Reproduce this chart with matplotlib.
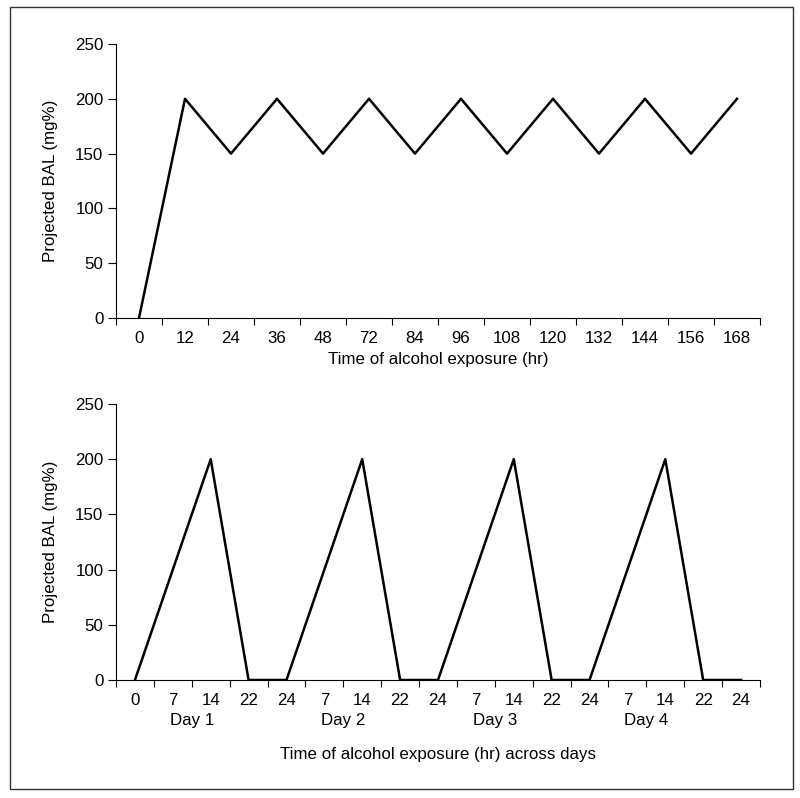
import numpy as np
import matplotlib
matplotlib.use("Agg")
from matplotlib import pyplot as plt
from matplotlib.patches import Rectangle
import matplotlib.transforms as mtransforms

plt.rcParams["font.family"] = ["Liberation Sans", "DejaVu Sans"]
plt.rcParams["font.size"] = 12.2

# top panel: continuous exposure
top_hours = ["0", "12", "24", "36", "48", "72", "84", "96", "108", "120", "132", "144", "156", "168"]
top_bal = [0, 200, 150, 200, 150, 200, 150, 200, 150, 200, 150, 200, 150, 200]

# bottom panel: intermittent exposure across days
bottom_hours = ["0", "7", "14", "22", "24",
                "7", "14", "22", "24",
                "7", "14", "22", "24",
                "7", "14", "22", "24"]
bottom_bal = [0, 100, 200, 0, 0,
              100, 200, 0, 0,
              100, 200, 0, 0,
              100, 200, 0, 0]
day_labels = ["Day 1", "Day 2", "Day 3", "Day 4"]
day_centers = [1.5, 5.5, 9.5, 13.5]

yticks = [0, 50, 100, 150, 200, 250]

fig = plt.figure(figsize=(8, 7.98), dpi=100)
ax1 = fig.add_axes([116 / 800, 1 - 318 / 798, 644 / 800, 274 / 798])
ax2 = fig.add_axes([116 / 800, 1 - 680 / 798, 644 / 800, 276 / 798])


def style(ax, labels):
    n = len(labels)
    ax.set_xlim(-0.5, n - 0.5)
    ax.set_ylim(0, 250)
    ax.set_yticks(yticks)
    ax.set_xticks(np.arange(n))
    ax.set_xticklabels(labels)
    ax.set_xticks(np.arange(n + 1) - 0.5, minor=True)
    ax.tick_params(axis="x", which="major", length=0, pad=9.5)
    ax.tick_params(axis="x", which="minor", length=5, width=0.8, direction="out")
    ax.tick_params(axis="y", length=6, width=0.8, direction="out", pad=3)
    ax.spines["top"].set_visible(False)
    ax.spines["right"].set_visible(False)
    for s in ["left", "bottom"]:
        ax.spines[s].set_linewidth(0.8)
    ax.set_ylabel("Projected BAL (mg%)")
    ax.yaxis.set_label_coords(-0.09, 0.5)


ax1.plot(np.arange(len(top_hours)), top_bal, color="black", lw=1.8)
style(ax1, top_hours)
ax1.set_xlabel("Time of alcohol exposure (hr)")
ax1.xaxis.set_label_coords(0.5, -0.125)

ax2.plot(np.arange(len(bottom_hours)), bottom_bal, color="black", lw=1.8)
style(ax2, bottom_hours)
trans = mtransforms.blended_transform_factory(ax2.transData, ax2.transAxes)
for c, d in zip(day_centers, day_labels):
    ax2.text(c, -0.148, d, transform=trans, ha="center", va="center")
ax2.set_xlabel("Time of alcohol exposure (hr) across days")
ax2.xaxis.set_label_coords(0.5, -0.243)

fig.patches.append(Rectangle((10 / 800, 1 - 789 / 798), 783 / 800, 782 / 798,
                             transform=fig.transFigure, fill=False, lw=1, ec="#333333"))

plt.savefig("out.png", dpi=100)
